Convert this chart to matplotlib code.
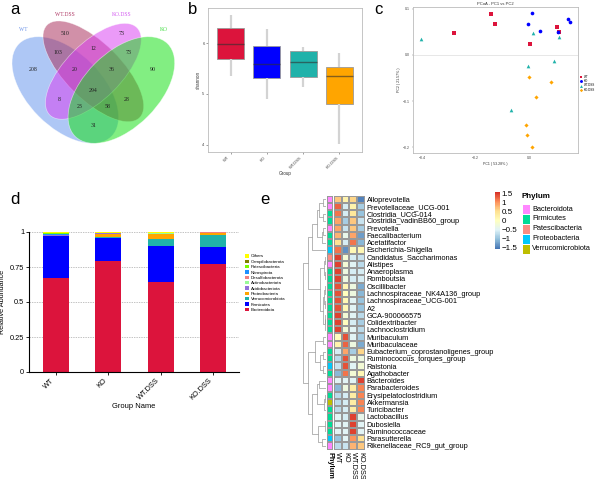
import numpy as np
import matplotlib
matplotlib.use("Agg")
import matplotlib.pyplot as plt
from matplotlib.patches import Ellipse
from matplotlib.colors import LinearSegmentedColormap, ListedColormap

plt.rcParams['font.family'] = ['Liberation Sans', 'DejaVu Sans']

# ------------------------------------------------------------------ data
venn_sets = ["WT", "WT.DSS", "KO.DSS", "KO"]
# regions in VennDiagram order a1..a15
venn_counts = [510, 12, 73, 103, 20, 294, 36, 73, 208, 8, 23, 31, 58, 28, 90]

groups = ["WT", "KO", "WT.DSS", "KO.DSS"]
shannon_whislo = [5.35, 4.90, 5.13, 4.02]
shannon_q1 = [5.68, 5.31, 5.33, 4.81]
shannon_med = [5.99, 5.58, 5.62, 5.36]
shannon_q3 = [6.30, 5.94, 5.84, 5.54]
shannon_whishi = [6.55, 6.27, 5.93, 5.81]

pc1_wt = [-0.144, -0.128, -0.280, 0.004, 0.106, 0.114]
pc2_wt = [0.088, 0.067, 0.048, 0.024, 0.061, 0.050]
pc1_ko = [0.0125, -0.004, 0.0425, 0.1075, 0.1475, 0.155]
pc2_ko = [0.091, 0.066, 0.051, 0.050, 0.077, 0.072]
pc1_wtdss = [-0.406, 0.014, 0.111, 0.095, -0.004, -0.069]
pc2_wtdss = [0.034, 0.047, 0.039, -0.013, -0.023, -0.120]
pc1_kodss = [0.0, 0.0825, 0.026, -0.010, -0.006, 0.0125]
pc2_kodss = [-0.047, -0.058, -0.091, -0.151, -0.174, -0.199]

phyla_bar = ["Bacteroidota", "Firmicutes", "Verrucomicrobiota", "Proteobacteria",
             "Acidobacteriota", "Actinobacteriota", "Desulfobacterota", "Nitrospirota",
             "Patescibacteria", "Campilobacterota", "Others"]
abund_wt = [0.675, 0.295, 0.002, 0.003, 0.003, 0.002, 0.002, 0.003, 0.008, 0.002, 0.005]
abund_ko = [0.795, 0.160, 0.012, 0.022, 0.002, 0.001, 0.001, 0.001, 0.001, 0.001, 0.004]
abund_wtdss = [0.645, 0.255, 0.048, 0.037, 0.004, 0.002, 0.001, 0.001, 0.002, 0.001, 0.004]
abund_kodss = [0.772, 0.120, 0.086, 0.016, 0.001, 0.001, 0.0005, 0.0005, 0.0005, 0.0005, 0.002]

genera = ["Alloprevotella", "Prevotellaceae_UCG-001", "Clostridia_UCG-014",
          "Clostridia_vadinBB60_group", "Prevotella", "Faecalibacterium", "Acetatifactor",
          "Escherichia-Shigella", "Candidatus_Saccharimonas", "Alistipes", "Anaeroplasma",
          "Romboutsia", "Oscillibacter", "Lachnospiraceae_NK4A136_group",
          "Lachnospiraceae_UCG-001", "A2", "GCA-900066575", "Colidextribacter",
          "Lachnoclostridium", "Muribaculum", "Muribaculaceae",
          "Eubacterium_coprostanoligenes_group", "Ruminococcus_torques_group", "Ralstonia",
          "Agathobacter", "Bacteroides", "Parabacteroides", "Erysipelatoclostridium",
          "Akkermansia", "Turicibacter", "Lactobacillus", "Dubosiella", "Ruminococcaceae",
          "Parasutterella", "Rikenellaceae_RC9_gut_group"]
genus_phylum = ["Bacteroidota", "Bacteroidota", "Firmicutes", "Firmicutes", "Bacteroidota",
                "Firmicutes", "Firmicutes", "Proteobacteria", "Patescibacteria", "Bacteroidota",
                "Firmicutes", "Firmicutes", "Firmicutes", "Firmicutes", "Firmicutes",
                "Firmicutes", "Firmicutes", "Firmicutes", "Firmicutes", "Bacteroidota",
                "Bacteroidota", "Firmicutes", "Firmicutes", "Proteobacteria", "Firmicutes",
                "Bacteroidota", "Bacteroidota", "Firmicutes", "Verrucomicrobiota", "Firmicutes",
                "Firmicutes", "Firmicutes", "Firmicutes", "Proteobacteria", "Bacteroidota"]
z_wt = [0.7, 1.3, 1.2, 0.9, 0.9, 0.8, 0.5, 1.2, 1.5, 1.5, 1.5, 1.5, 1.4, 1.4, 1.4, 1.4, 1.5,
        1.5, 1.5, 0.0, 0.2, -0.6, -0.8, -0.7, -1.1, -0.5, -1.1, -0.8, -0.8, -0.8, -0.5, -0.5,
        -0.5, -1.0, -0.8]
z_ko = [0.2, -0.6, -0.6, -0.9, -0.7, -0.4, -0.6, -1.4, -0.2, -0.2, -0.3, -0.3, 0.1, 0.0, 0.1,
        0.1, -0.2, 0.0, -0.2, 1.4, 1.3, 0.9, 1.4, 1.4, 1.2, -0.5, -0.3, -0.6, -0.6, -0.6, -0.6,
        -0.5, -0.5, -0.5, -0.7]
z_wtdss = [0.6, 0.2, 0.4, 0.7, 0.7, 0.9, 1.2, 0.1, -0.6, -0.5, -0.6, -0.6, -0.3, -0.3, -0.5,
           -0.5, -0.5, -0.6, -0.5, -0.5, -0.3, -0.9, -0.3, -0.5, -0.2, -0.5, 0.3, 0.3, 0.3,
           0.3, 1.5, 1.5, 1.5, 1.0, 0.8]
z_kodss = [-1.5, -0.9, -1.0, -0.7, -0.9, -1.3, -1.1, 0.1, -0.7, -0.8, -0.6, -0.6, -1.2, -1.1,
           -1.0, -1.0, -0.8, -0.9, -0.8, -0.9, -1.2, 0.6, -0.3, -0.2, 0.1, 1.5, 1.1, 1.1, 1.1,
           1.1, -0.4, -0.5, -0.5, 0.5, 0.7]
# row dendrogram: (height, left, right), leaves are row indices
row_tree = (1.0,
            (0.8,
             (0.6, (0.4, (0.3, (0.12, 0, 1), (0.15, 2, 3)), (0.2, (0.12, 4, 5), 6)), 7),
             (0.25, (0.1, (0.05, 8, 9), (0.04, 10, 11)),
              (0.12, (0.08, (0.05, 12, 13), (0.04, 14, 15)), (0.06, (0.04, 16, 17), 18)))),
            (0.8,
             (0.5, (0.12, 19, 20), (0.25, (0.15, 21, 22), (0.15, 23, 24))),
             (0.6, (0.4, (0.3, 25, 26), (0.08, (0.05, 27, 28), 29)),
              (0.35, (0.04, (0.02, 30, 31), 32), (0.2, 33, 34)))))
phylum_legend = ["Bacteroidota", "Firmicutes", "Patescibacteria", "Proteobacteria",
                 "Verrucomicrobiota"]

# ------------------------------------------------------------------ layout
W, H = 601, 479
fig = plt.figure(figsize=(W / 100, H / 100), dpi=100)


def box(l, t, r, b):
    return [l / W, 1 - b / H, (r - l) / W, (b - t) / H]


for letter, (px, py) in zip("abcde", [(15, 10), (193, 9), (378, 9), (15, 200), (265, 199)]):
    fig.text(px / W, 1 - py / H, letter, fontsize=12, ha="center", va="center")

grp_colors = ["#DC143C", "#0000FF", "#20B2AA", "#FFA500"]

# ------------------------------------------------------------------ a: Venn
axa = fig.add_axes(box(0, 0, 190, 200))
axa.set_xlim(0.0008, 1.017)
axa.set_ylim(-0.118, 0.9513)
axa.axis("off")
ell_geom = [((0.35, 0.47), 0.70, 0.40, 135), ((0.50, 0.57), 0.70, 0.30, 135),
            ((0.50, 0.57), 0.66, 0.30, 45), ((0.65, 0.47), 0.70, 0.40, 45)]
ell_fill = ["#6495ED", "#A82A58", "#D93DF2", "#10E010"]
ell_lab = ["#6F95E8", "#B03A66", "#D35BF0", "#3CDC3C"]
for (c, w, h, ang), col in zip(ell_geom, ell_fill):
    axa.add_patch(Ellipse(c, w, h, angle=ang, facecolor=col, alpha=0.52,
                          edgecolor="white", lw=0.5))
region_pos = [(0.35, 0.77), (0.50, 0.69), (0.65, 0.77), (0.31, 0.67), (0.40, 0.58),
              (0.50, 0.47), (0.60, 0.58), (0.69, 0.67), (0.18, 0.58), (0.32, 0.42),
              (0.425, 0.38), (0.50, 0.28), (0.575, 0.38), (0.68, 0.42), (0.82, 0.58)]
for (x, y), n in zip(region_pos, venn_counts):
    axa.text(x, y, str(n), fontsize=4.2, family="Liberation Serif", ha="center",
             va="center", color="#222222")
set_pos = [(0.124, 0.791), (0.348, 0.876), (0.653, 0.876), (0.878, 0.791)]
for (x, y), name, col in zip(set_pos, venn_sets, ell_lab):
    axa.text(x, y, name, fontsize=4, family="Liberation Serif", ha="center",
             va="center", color=col)

# ------------------------------------------------------------------ b: boxplot
axb = fig.add_axes(box(208, 8, 362, 152))
stats = [dict(med=m, q1=a, q3=b, whislo=lo, whishi=hi, fliers=[], label=g)
         for g, lo, a, m, b, hi in zip(groups, shannon_whislo, shannon_q1, shannon_med,
                                       shannon_q3, shannon_whishi)]
bp = axb.bxp(stats, positions=range(4), widths=0.75, patch_artist=True, showcaps=False,
             showfliers=False,
             whiskerprops=dict(color="#D3D3D3", lw=1.6, solid_capstyle="butt"),
             medianprops=dict(color="#303030", lw=1.0, alpha=0.6),
             boxprops=dict(edgecolor="#9A9A9A", lw=0.6))
for patch, col in zip(bp["boxes"], grp_colors):
    patch.set_facecolor(col)
axb.set_xlim(-0.62, 3.62)
axb.set_ylim(3.86, 6.69)
axb.set_yticks([4, 5, 6])
axb.set_xticks(range(4))
axb.set_xticklabels(groups, rotation=45, ha="right", va="top")
axb.tick_params(labelsize=3, length=1.5, width=0.4, color="#555555", pad=1,
                labelcolor="#444444")
for s in axb.spines.values():
    s.set_color("#BBBBBB")
    s.set_linewidth(0.6)
axb.set_xlabel("Group", fontsize=3.3, labelpad=1, color="#333333")
axb.set_ylabel("shannon", fontsize=3.3, labelpad=1, color="#333333")

# ------------------------------------------------------------------ c: PCoA
axc = fig.add_axes(box(413, 7, 578, 153))
axc.axhline(0, color="#DDDDDD", lw=0.5, zorder=0)
pc_sets = [(pc1_wt, pc2_wt, "s", 6.5), (pc1_ko, pc2_ko, "o", 7.0),
           (pc1_wtdss, pc2_wtdss, "^", 7.0), (pc1_kodss, pc2_kodss, "D", 4.5)]
for (xs, ys, mk, sz), col, g in zip(pc_sets, grp_colors, groups):
    axc.scatter(xs, ys, marker=mk, s=sz, color=col, linewidths=0, label=g)


def fmt1(v, p):
    return "0.0" if abs(v) < 1e-9 else f"{v:.1f}".replace("-", "\u2212")


axc.set_xlim(-0.435, 0.184)
axc.set_ylim(-0.2123, 0.1036)
axc.set_xticks([-0.4, -0.2, 0.0])
axc.set_yticks([-0.2, -0.1, 0.0, 0.1])
axc.xaxis.set_major_formatter(plt.FuncFormatter(fmt1))
axc.yaxis.set_major_formatter(plt.FuncFormatter(fmt1))
axc.tick_params(labelsize=2.5, length=1, width=0.3, pad=1, labelcolor="#444444",
                color="#777777")
for s in axc.spines.values():
    s.set_color("#BBBBBB")
    s.set_linewidth(0.6)
axc.set_title("PCoA - PC1 vs PC2", fontsize=3, pad=1.5, color="#333333")
axc.set_xlabel("PC1 ( 53.28% )", fontsize=2.6, labelpad=1.5, color="#333333")
axc.set_ylabel("PC2 ( 21.57% )", fontsize=2.6, labelpad=1.5, color="#333333")
axc.legend(loc="upper left", bbox_to_anchor=(579 / W, 1 - 73 / H),
           bbox_transform=fig.transFigure, frameon=False, fontsize=2.2,
           handlelength=0.6, handletextpad=0.4, labelspacing=0.15, borderpad=0,
           markerscale=0.8)

# ------------------------------------------------------------------ d: stacked bars
axd = fig.add_axes(box(29, 232, 239, 372))
bar_colors = ["#DC143C", "#0000FF", "#20B2AA", "#FFA500", "#9370DB", "#98FB98",
              "#F08080", "#1E90FF", "#7CFC00", "#808000", "#FFFF00"]
abund = np.array([abund_wt, abund_ko, abund_wtdss, abund_kodss])
bottom = np.zeros(4)
handles = []
for j, (name, col) in enumerate(zip(phyla_bar, bar_colors)):
    hb = axd.bar(range(4), abund[:, j], bottom=bottom, width=0.5, color=col, label=name,
                 zorder=2)
    handles.append(hb)
    bottom += abund[:, j]
axd.set_xlim(-0.51, 3.49)
axd.set_ylim(0, 1.0)
axd.set_yticks([0, 0.25, 0.5, 0.75, 1])
axd.set_yticklabels(["0", "0.25", "0.5", "0.75", "1"])
axd.yaxis.grid(True, linestyle=(0, (2, 1.5)), color="#AAAAAA", lw=0.5)
axd.set_axisbelow(True)
axd.set_xticks(range(4))
axd.set_xticklabels(groups, rotation=45, ha="right", va="top")
axd.tick_params(labelsize=5.3, length=2, width=0.6, pad=1.5)
for s in ["top", "right"]:
    axd.spines[s].set_visible(False)
for s in ["left", "bottom"]:
    axd.spines[s].set_linewidth(0.8)
axd.set_ylabel("Relative Abundance", fontsize=5.2, labelpad=3)
axd.set_xlabel("Group Name", fontsize=5.4, labelpad=1)
axd.legend(handles[::-1], phyla_bar[::-1], loc="upper left",
           bbox_to_anchor=(243 / W, 1 - 252 / H), bbox_transform=fig.transFigure,
           frameon=False, fontsize=3.2, handlelength=0.8, handleheight=0.8,
           handletextpad=0.5, labelspacing=0.25, borderpad=0)

# ------------------------------------------------------------------ e: heatmap
top, bot = 195.5, 449.6
nrow = len(genera)
heat_cols = ["#4575B4", "#91BFDB", "#E0F3F8", "#FFFFBF", "#FEE090", "#FC8D59", "#D73027"]
cmap = LinearSegmentedColormap.from_list("rdylbu", heat_cols, N=100)
Z = np.array([z_wt, z_ko, z_wtdss, z_kodss]).T

axh = fig.add_axes(box(334, top, 364.7, bot))
axh.pcolormesh(np.arange(5) - 0.5, np.arange(nrow + 1) - 0.5, Z, cmap=cmap,
               vmin=-1.6, vmax=1.6, edgecolors="#999999", linewidth=0.3)
axh.set_xlim(-0.5, 3.5)
axh.set_ylim(nrow - 0.5, -0.5)
axh.set_xticks(range(4))
axh.set_xticklabels(groups, rotation=270, fontsize=5.3, va="top", ha="center")
axh.yaxis.tick_right()
axh.set_yticks(range(nrow))
axh.set_yticklabels(genera, fontsize=5.3)
axh.tick_params(length=0, pad=1.5)
for s in axh.spines.values():
    s.set_visible(False)

phy_colors = ["#FF87FF", "#00DC96", "#FA8C82", "#00C8FA", "#BEBE00"]
phy_idx = np.array([[phylum_legend.index(p)] for p in genus_phylum])
axp = fig.add_axes(box(326.7, top, 333.4, bot))
axp.pcolormesh(np.arange(2) - 0.5, np.arange(nrow + 1) - 0.5, phy_idx,
               cmap=ListedColormap(phy_colors), vmin=-0.5, vmax=4.5,
               edgecolors="#999999", linewidth=0.3)
axp.set_xlim(-0.5, 0.5)
axp.set_ylim(nrow - 0.5, -0.5)
axp.set_yticks([])
axp.set_xticks([0])
axp.set_xticklabels(["Phylum"], rotation=270, fontsize=5.3, fontweight="bold",
                    va="top", ha="center")
axp.tick_params(length=0, pad=1.5)
for s in axp.spines.values():
    s.set_visible(False)

# dendrogram
axt = fig.add_axes(box(303, top, 326.2, bot))
axt.set_xlim(1.0, 0.0)
axt.set_ylim(nrow - 0.5, -0.5)
axt.axis("off")


def draw_node(node):
    if isinstance(node, int):
        return node, 0.0
    h, l, r = node
    yl, hl = draw_node(l)
    yr, hr = draw_node(r)
    axt.plot([hl, h, h, hr], [yl, yl, yr, yr], color="#8C8C8C", lw=0.45,
             solid_capstyle="butt")
    return (yl + yr) / 2, h


draw_node(row_tree)

# colorbar
cax = fig.add_axes(box(495, 192, 499.5, 249))
sm = plt.cm.ScalarMappable(cmap=cmap, norm=plt.Normalize(-1.6, 1.6))
cb = fig.colorbar(sm, cax=cax)
cb.outline.set_visible(False)
cb.set_ticks([-1.5, -1, -0.5, 0, 0.5, 1, 1.5])
cb.set_ticklabels(["\u22121.5", "\u22121", "\u22120.5", "0", "0.5", "1", "1.5"])
cax.tick_params(length=0, labelsize=5.8, pad=1.5)

# phylum legend
fig.text(522 / W, 1 - 197 / H, "Phylum", fontsize=5.8, fontweight="bold", va="center")
axl = fig.add_axes(box(522, 204, 530, 254))
axl.pcolormesh([0, 1], np.arange(6), np.arange(5).reshape(-1, 1),
               cmap=ListedColormap(phy_colors), vmin=-0.5, vmax=4.5,
               edgecolors="white", linewidth=0.6)
axl.set_xlim(0, 1)
axl.set_ylim(5, 0)
axl.axis("off")
for i, name in enumerate(phylum_legend):
    fig.text(532 / W, 1 - (209 + 10 * i) / H, name, fontsize=5.3, va="center")

fig.savefig("out.png", dpi=100)
